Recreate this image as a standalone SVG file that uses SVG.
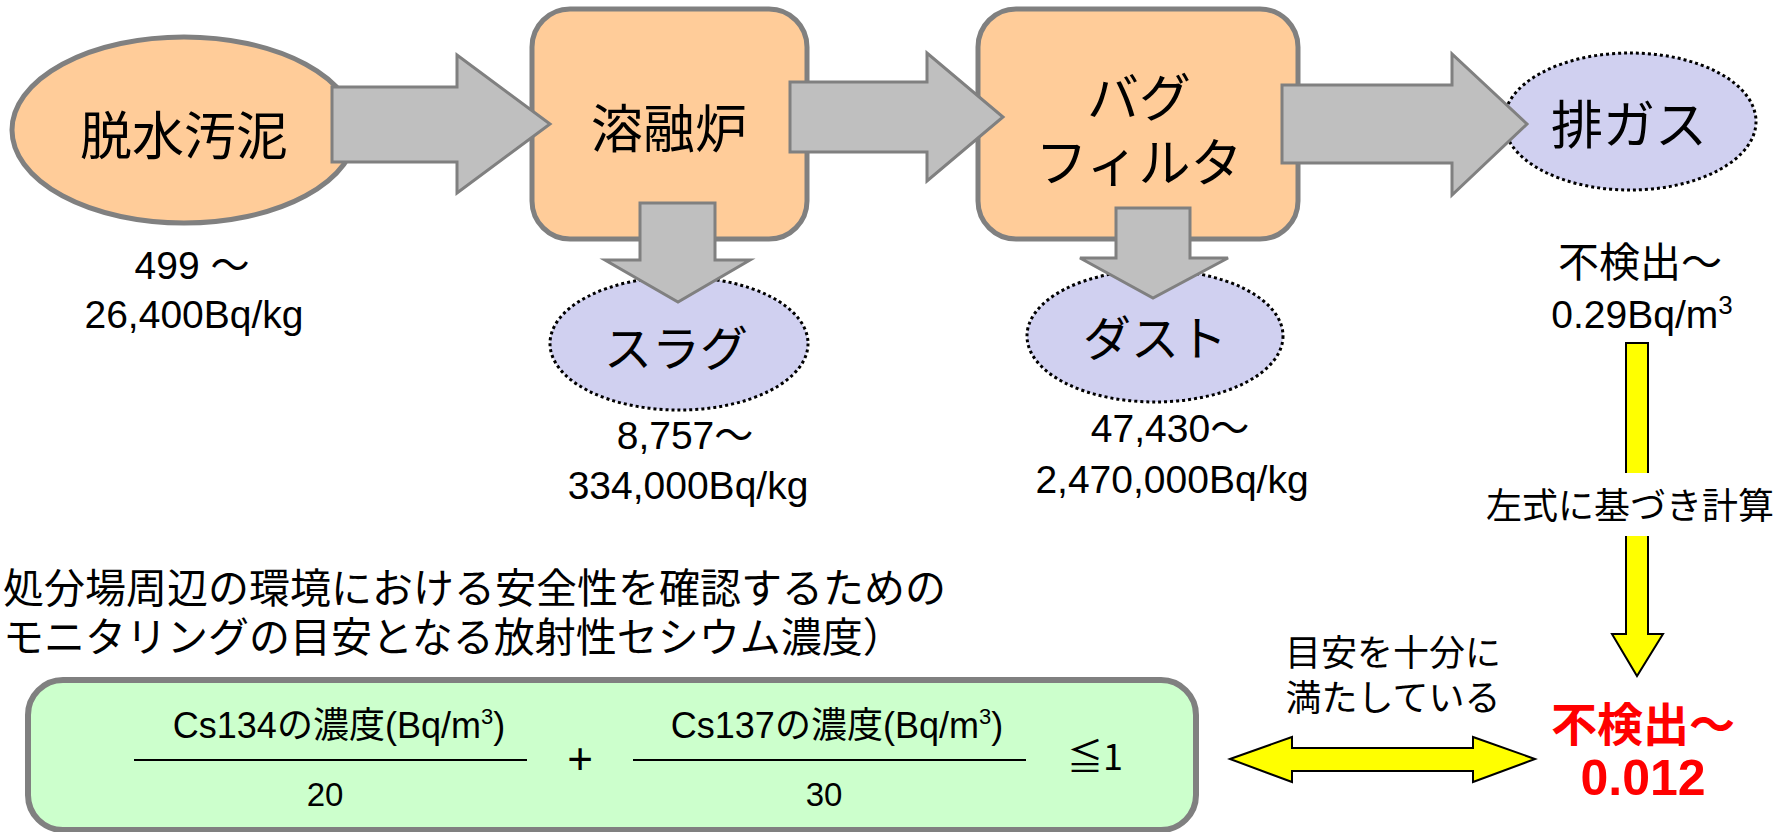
<svg xmlns="http://www.w3.org/2000/svg" width="1784" height="832" viewBox="0 0 1784 832">
<style>
.jp{font-family:"Noto Sans CJK JP","Liberation Sans",sans-serif;fill:#000}
.lat{font-family:"Liberation Sans","Noto Sans CJK JP",sans-serif;fill:#000}
.proc{fill:#ffcc99;stroke:#808080;stroke-width:5}
.out{fill:#d0d0f0;stroke:#000;stroke-width:3;stroke-dasharray:3 3}
.garrow{fill:#bfbfbf;stroke:#808080;stroke-width:3}
.yarrow{fill:#ffff00;stroke:#000;stroke-width:2}
.mid{text-anchor:middle}
.big{font-size:52px}
.mid48{font-size:48px}
.val{font-size:39px}
.note{font-size:36px}
.head{font-size:41px}
.red{fill:#ff0000;font-weight:bold}
</style>
<rect width="1784" height="832" fill="#ffffff"/>

<g id="node-sludge">
  <ellipse class="proc" cx="184" cy="130" rx="172" ry="93"/>
  <text class="jp big mid" x="184" y="155">脱水汚泥</text>
</g>
<g id="node-melter">
  <rect class="proc" x="532" y="9" width="275" height="230" rx="38"/>
  <text class="jp big mid" x="669" y="148">溶融炉</text>
</g>
<g id="node-bagfilter">
  <rect class="proc" x="978" y="9" width="320" height="230" rx="38"/>
  <text class="jp big mid" x="1139" y="117">バグ</text>
  <text class="jp big mid" x="1139" y="182">フィルタ</text>
</g>
<g id="node-exhaust">
  <ellipse class="out" cx="1630" cy="121.5" rx="126" ry="68.5"/>
  <text class="jp big mid" x="1629" y="144">排ガス</text>
</g>
<g id="node-slag">
  <ellipse class="out" cx="679" cy="343.5" rx="129" ry="66.5"/>
  <text class="jp mid48 mid" x="676" y="366">スラグ</text>
</g>
<g id="node-dust">
  <ellipse class="out" cx="1155" cy="336" rx="128" ry="66"/>
  <text class="jp mid48 mid" x="1155" y="356">ダスト</text>
</g>

<g id="connectors">
  <polygon class="garrow" points="332,87 457,87 457,55 550,124 457,193 457,162 332,162"/>
  <polygon class="garrow" points="790,82 927,82 927,53 1003,117 927,181 927,152 790,152"/>
  <polygon class="garrow" points="1282,85 1452,85 1452,54 1527,124 1452,195 1452,163 1282,163"/>
  <polygon class="garrow" points="640,203 715,203 715,260 750,260 678,302 605,260 640,260"/>
  <polygon class="garrow" points="1116,208 1190,208 1190,258 1228,258 1153,298 1080,258 1116,258"/>
  <polygon class="yarrow" points="1626,343 1648,343 1648,634 1663,634 1637,676 1612,634 1626,634"/>
  <polygon class="yarrow" points="1230,759 1292,737 1292,748 1473,748 1473,737 1535,759 1473,782 1473,771 1292,771 1292,782"/>
</g>

<g id="values">
  <text class="lat val mid" x="192" y="279">499 ～</text>
  <text class="lat val mid" x="194" y="328">26,400Bq/kg</text>
  <text class="lat val mid" x="685" y="449">8,757～</text>
  <text class="lat val mid" x="688" y="499">334,000Bq/kg</text>
  <text class="lat val mid" x="1170" y="442">47,430～</text>
  <text class="lat val mid" x="1172" y="493">2,470,000Bq/kg</text>
  <text class="jp head mid" x="1640" y="277">不検出～</text>
  <text class="lat val mid" x="1642" y="328">0.29Bq/m<tspan font-size="26" dy="-14">3</tspan></text>
</g>

<g id="calc-label">
  <rect x="1480" y="473" width="300" height="63" fill="#ffffff"/>
  <text class="jp note mid" x="1630" y="519">左式に基づき計算</text>
</g>

<g id="result">
  <text class="jp red mid" x="1643" y="741" font-size="46">不検出～</text>
  <text class="lat red mid" x="1643" y="795" font-size="50">0.012</text>
</g>

<g id="satisfy-label">
  <text class="jp note mid" x="1393" y="666">目安を十分に</text>
  <text class="jp note mid" x="1393" y="711">満たしている</text>
</g>

<g id="heading">
  <text class="jp head" x="3" y="603">処分場周辺の環境における安全性を確認するための</text>
  <text class="jp head" x="3" y="652">モニタリングの目安となる放射性セシウム濃度）</text>
</g>

<g id="formula">
  <rect x="28" y="680" width="1168" height="150" rx="35" fill="#ccffcc" stroke="#808080" stroke-width="6"/>
  <text class="lat mid" x="339" y="738" font-size="36">Cs134の濃度(Bq/m<tspan font-size="22" dy="-14">3</tspan><tspan dy="14">)</tspan></text>
  <line x1="134" y1="760" x2="527" y2="760" stroke="#000" stroke-width="2"/>
  <text class="lat mid" x="325" y="806" font-size="33">20</text>
  <text class="lat mid" x="580" y="774" font-size="44">+</text>
  <text class="lat mid" x="837" y="738" font-size="36">Cs137の濃度(Bq/m<tspan font-size="22" dy="-14">3</tspan><tspan dy="14">)</tspan></text>
  <line x1="633" y1="760" x2="1026" y2="760" stroke="#000" stroke-width="2"/>
  <text class="lat mid" x="824" y="806" font-size="33">30</text>
  <text class="jp mid" x="1095" y="770" font-size="36">≦1</text>
</g>
</svg>
